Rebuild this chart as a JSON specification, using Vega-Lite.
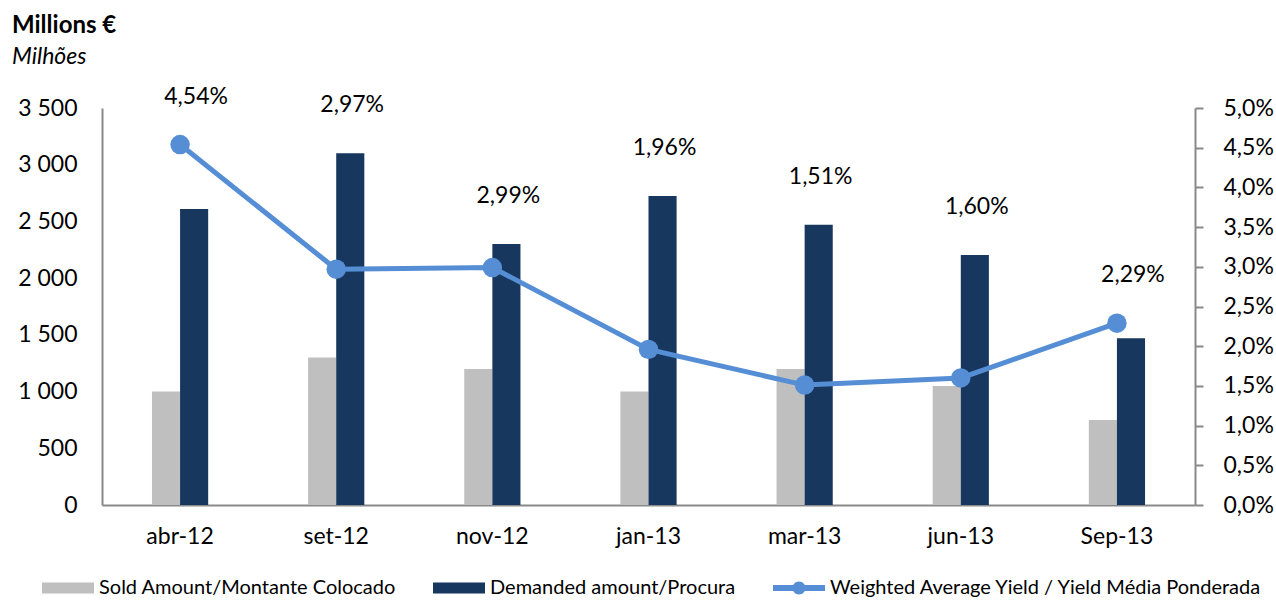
{
  "$schema": "https://vega.github.io/schema/vega-lite/v6.json",
  "width": 1093,
  "height": 397,
  "autosize": {"type": "none"},
  "padding": {"left": 102, "top": 108, "right": 81, "bottom": 95},
  "background": "white",
  "config": {
    "locale": {"number": {"decimal": ",", "thousands": " ", "grouping": [3], "currency": ["", " €"]}},
    "font": "Lato",
    "view": {"stroke": null},
    "axis": {"labelFont": "Lato", "labelFontSize": 23, "labelColor": "#000000", "domainColor": "#898989", "domainWidth": 2, "tickColor": "#898989", "tickWidth": 2, "grid": false, "title": null, "labelOverlap": false, "labelFlush": false}
  },
  "title": {
    "text": "Millions €",
    "subtitle": "Milhões",
    "anchor": "start",
    "frame": "group",
    "dx": -90,
    "offset": 17,
    "font": "Lato",
    "fontSize": 24,
    "fontWeight": "bold",
    "color": "#000000",
    "subtitleFont": "Lato",
    "subtitleFontSize": 23,
    "subtitleFontStyle": "italic",
    "subtitleColor": "#000000",
    "subtitlePadding": 8
  },
  "data": {
    "values": [
      {"month": "abr-12", "sold": 1000, "demanded": 2610, "yield": 0.0454},
      {"month": "set-12", "sold": 1300, "demanded": 3100, "yield": 0.0297},
      {"month": "nov-12", "sold": 1200, "demanded": 2300, "yield": 0.0299},
      {"month": "jan-13", "sold": 1000, "demanded": 2725, "yield": 0.0196},
      {"month": "mar-13", "sold": 1200, "demanded": 2470, "yield": 0.0151},
      {"month": "jun-13", "sold": 1050, "demanded": 2205, "yield": 0.0160},
      {"month": "Sep-13", "sold": 750, "demanded": 1470, "yield": 0.0229}
    ]
  },
  "layer": [
    {
      "layer": [
        {
          "transform": [{"fold": ["sold", "demanded"], "as": ["key", "value"]}],
          "mark": {"type": "bar"},
          "encoding": {
            "x": {
              "field": "month", "type": "nominal", "sort": null,
              "scale": {"paddingInner": 0.64, "paddingOuter": 0.32},
              "axis": {"orient": "bottom", "labelAngle": 0, "ticks": false, "labelPadding": 20, "domain": true}
            },
            "xOffset": {"field": "key", "type": "nominal", "sort": ["sold", "demanded"], "scale": {"paddingInner": 0, "paddingOuter": 0}},
            "y": {
              "field": "value", "type": "quantitative",
              "scale": {"domain": [0, 3500], "nice": false},
              "axis": {"orient": "left", "values": [0, 500, 1000, 1500, 2000, 2500, 3000, 3500], "format": ",d", "ticks": false, "labelPadding": 25, "domain": true}
            },
            "color": {
              "field": "key", "type": "nominal",
              "scale": {"domain": ["sold", "demanded", "yield"], "range": ["#BFBFBF", "#17375E", "#558ED5"]},
              "legend": {
                "orient": "none",
                "legendX": -60,
                "legendY": 454,
                "direction": "horizontal",
                "title": null,
                "padding": 0,
                "labelExpr": "datum.value == 'sold' ? 'Sold Amount/Montante Colocado' : datum.value == 'demanded' ? 'Demanded amount/Procura' : 'Weighted Average Yield / Yield Média Ponderada'",
                "labelFont": "Lato",
                "labelFontSize": 20,
                "labelColor": "#000000",
                "labelLimit": 0,
                "labelOffset": 5,
                "columnPadding": 37,
                "symbolSize": 2704,
                "encode": {
                  "symbols": {
                    "update": {
                      "shape": {"signal": "datum.value == 'yield' ? 'M-1,-0.115H1V0.115H-1Z M0.25,0A0.25,0.25 0 1,1 -0.25,0A0.25,0.25 0 1,1 0.25,0Z' : 'M-1,-0.21H1V0.21H-1Z'"},
                      "fill": {"scale": "color", "field": "value"},
                      "stroke": {"value": "transparent"},
                      "strokeWidth": {"value": 0},
                      "opacity": {"value": 1}
                    }
                  }
                }
              }
            }
          }
        },
        {
          "transform": [{"calculate": "max(datum.demanded, datum.yield * 70000)", "as": "labelY"}],
          "mark": {"type": "text", "dy": -48, "dx": 16, "baseline": "middle", "align": "center", "font": "Lato", "fontSize": 23, "color": "#000000"},
          "encoding": {
            "x": {"field": "month", "type": "nominal", "sort": null},
            "y": {"field": "labelY", "type": "quantitative"},
            "text": {"field": "yield", "type": "quantitative", "format": ".2%"}
          }
        }
      ]
    },
    {
      "encoding": {
        "x": {"field": "month", "type": "nominal", "sort": null},
        "y": {
          "field": "yield", "type": "quantitative",
          "scale": {"domain": [0, 0.05], "nice": false},
          "axis": {"orient": "right", "values": [0, 0.005, 0.01, 0.015, 0.02, 0.025, 0.03, 0.035, 0.04, 0.045, 0.05], "format": ".1%", "ticks": true, "tickSize": 8, "labelPadding": 20, "domain": true, "labelOverlap": false}
        },
        "color": {"datum": "yield"}
      },
      "layer": [
        {"mark": {"type": "line", "strokeWidth": 5}},
        {"mark": {"type": "point", "filled": true, "size": 380, "opacity": 1}}
      ]
    }
  ],
  "resolve": {"scale": {"y": "independent"}}
}
